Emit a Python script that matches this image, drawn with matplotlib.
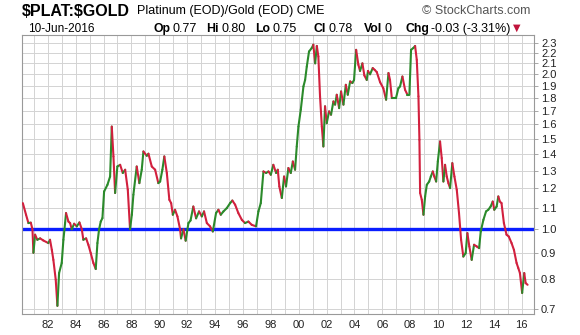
import matplotlib
matplotlib.use('Agg')
import matplotlib.pyplot as plt
import numpy as np
from matplotlib.collections import LineCollection
from matplotlib.ticker import FixedLocator, FixedFormatter, NullLocator

plt.rcParams['font.family'] = ['Liberation Sans', 'DejaVu Sans']

# Platinum / Gold ratio (decimal years)
years = [
    1980.21, 1980.44, 1980.61, 1980.78, 1980.90, 1980.97, 1981.09, 1981.25, 1981.45, 1981.68,
    1982.04, 1982.16, 1982.29, 1982.40, 1982.57, 1982.69, 1982.81, 1983.00, 1983.12, 1983.24,
    1983.31, 1983.48, 1983.60, 1983.72, 1983.89, 1984.08, 1984.27, 1984.44, 1984.55, 1984.75,
    1984.91, 1985.08, 1985.27, 1985.44, 1985.56, 1985.68, 1985.80, 1985.92, 1986.04, 1986.28,
    1986.47, 1986.59, 1986.71, 1986.83, 1986.99, 1987.19, 1987.38, 1987.55, 1987.74, 1987.90,
    1988.03, 1988.14, 1988.38, 1988.57, 1988.74, 1988.86, 1989.10, 1989.22, 1989.46, 1989.70,
    1989.93, 1990.06, 1990.22, 1990.36, 1990.54, 1990.72, 1990.85, 1990.97, 1991.13, 1991.30,
    1991.49, 1991.56, 1991.73, 1991.89, 1992.09, 1992.24, 1992.44, 1992.64, 1992.85, 1993.05,
    1993.21, 1993.41, 1993.64, 1993.84, 1994.07, 1994.24, 1994.41, 1994.60, 1994.84, 1995.08,
    1995.24, 1995.44, 1995.67, 1995.92, 1996.15, 1996.39, 1996.63, 1996.94, 1997.11, 1997.28,
    1997.47, 1997.66, 1997.83, 1998.00, 1998.18, 1998.38, 1998.50, 1998.61, 1998.79, 1998.95,
    1999.09, 1999.26, 1999.43, 1999.58, 1999.74, 1999.86, 1999.98, 2000.15, 2000.34, 2000.46,
    2000.58, 2000.74, 2000.94, 2001.05, 2001.18, 2001.30, 2001.41, 2001.53, 2001.66, 2001.77,
    2001.89, 2002.01, 2002.18, 2002.32, 2002.49, 2002.61, 2002.73, 2002.90, 2003.04, 2003.21,
    2003.38, 2003.52, 2003.69, 2003.85, 2003.97, 2004.12, 2004.28, 2004.40, 2004.57, 2004.71,
    2004.88, 2004.97, 2005.12, 2005.31, 2005.44, 2005.60, 2005.84, 2006.07, 2006.27, 2006.44,
    2006.55, 2006.68, 2006.84, 2006.98, 2007.15, 2007.27, 2007.44, 2007.63, 2007.80, 2007.94,
    2008.06, 2008.23, 2008.35, 2008.47, 2008.59, 2008.66, 2008.71, 2008.83, 2008.95, 2009.07,
    2009.19, 2009.36, 2009.48, 2009.62, 2009.73, 2009.86, 2009.98, 2010.14, 2010.26, 2010.38,
    2010.50, 2010.62, 2010.74, 2010.86, 2011.02, 2011.17, 2011.34, 2011.50, 2011.65, 2011.81,
    2011.98, 2012.10, 2012.24, 2012.41, 2012.58, 2012.77, 2012.94, 2013.06, 2013.25, 2013.44,
    2013.60, 2013.77, 2013.92, 2014.03, 2014.20, 2014.32, 2014.43, 2014.55, 2014.72, 2014.91,
    2015.07, 2015.27, 2015.44, 2015.63, 2015.75, 2015.87, 2016.03, 2016.18, 2016.28, 2016.42,
]
ratio = [
    1.124, 1.067, 1.028, 1.030, 1.000, 0.900, 0.976, 0.954, 0.960, 0.951,
    0.940, 0.954, 0.912, 0.872, 0.798, 0.710, 0.822, 0.860, 0.954, 1.028,
    1.075, 1.035, 1.028, 1.000, 1.025, 1.013, 1.031, 1.000, 0.954, 0.960,
    0.933, 0.899, 0.860, 0.837, 0.940, 1.000, 1.035, 1.051, 1.184, 1.220,
    1.266, 1.583, 1.385, 1.176, 1.324, 1.334, 1.286, 1.305, 1.193, 1.000,
    1.067, 1.167, 1.324, 1.229, 1.305, 1.416, 1.389, 1.402, 1.324, 1.305,
    1.229, 1.238, 1.305, 1.385, 1.286, 1.141, 1.124, 1.067, 1.091, 1.059,
    1.000, 0.960, 1.000, 0.950, 1.028, 1.040, 1.107, 1.050, 1.083, 1.059,
    1.083, 1.028, 1.013, 0.990, 1.075, 1.091, 1.067, 1.083, 1.099, 1.124,
    1.137, 1.116, 1.075, 1.043, 1.028, 1.035, 1.020, 1.013, 1.083, 1.124,
    1.295, 1.286, 1.295, 1.276, 1.334, 1.286, 1.305, 1.211, 1.150, 1.266,
    1.211, 1.315, 1.286, 1.354, 1.305, 1.448, 1.583, 1.707, 1.894, 1.950,
    2.070, 2.214, 2.250, 2.283, 2.100, 2.270, 2.166, 1.812, 1.583, 1.448,
    1.733, 1.607, 1.694, 1.669, 1.771, 1.746, 1.825, 1.719, 1.852, 1.746,
    1.908, 1.825, 1.937, 1.923, 1.950, 2.231, 2.087, 2.030, 2.100, 1.990,
    1.950, 2.030, 2.000, 2.056, 2.041, 2.020, 1.930, 1.879, 1.785, 2.011,
    1.950, 1.798, 1.798, 1.798, 1.879, 1.894, 1.980, 1.866, 1.825, 1.825,
    2.231, 2.250, 2.270, 2.134, 1.812, 1.492, 1.176, 1.141, 1.067, 1.158,
    1.220, 1.238, 1.266, 1.295, 1.266, 1.238, 1.354, 1.481, 1.375, 1.238,
    1.334, 1.266, 1.229, 1.202, 1.344, 1.266, 1.193, 1.075, 0.954, 0.885,
    0.899, 0.983, 0.926, 0.872, 0.933, 0.926, 0.919, 0.990, 1.043, 1.083,
    1.091, 1.107, 1.132, 1.091, 1.107, 1.158, 1.132, 1.124, 1.028, 0.976,
    0.968, 0.940, 0.912, 0.860, 0.841, 0.822, 0.752, 0.822, 0.786, 0.780,
]

ytick_vals = [0.7, 0.8, 0.9, 1.0, 1.1, 1.2, 1.3, 1.4, 1.5, 1.6, 1.7, 1.8, 1.9, 2.0, 2.1, 2.2, 2.3]
ytick_labels = ['%.1f' % v for v in ytick_vals]
xtick_years = list(range(1982, 2017, 2))
xtick_labels = ['%02d' % (y % 100) for y in xtick_years]
ref_level = 1.0

up_col = '#2b8a2b'
down_col = '#d2203e'

W, H = 580, 335
fig = plt.figure(figsize=(W / 100, H / 100), dpi=100)
ax = fig.add_axes([22 / W, 1 - 314 / H, 512 / W, 279 / H])

# line coloured by direction of move
pts = np.column_stack([years, ratio])
segs = np.stack([pts[:-1], pts[1:]], axis=1)
cols = np.where(np.diff(ratio) >= 0, up_col, down_col)
lc = LineCollection(segs, colors=cols, linewidths=1.5, capstyle='round', joinstyle='round', zorder=3)
ax.add_collection(lc)

ax.axhline(ref_level, color='#0a1eff', lw=2.4, zorder=2)

ax.set_yscale('log')
ax.set_ylim(0.6845, 2.384)
ax.set_xlim(1980.15, 2016.88)

ax.yaxis.set_major_locator(FixedLocator(ytick_vals))
ax.yaxis.set_major_formatter(FixedFormatter(ytick_labels))
ax.yaxis.set_minor_locator(NullLocator())
ax.yaxis.tick_right()
ax.tick_params(axis='y', length=3, width=0.6, color='#999999', labelsize=8, pad=2, labelcolor='#222222')

ax.xaxis.set_major_locator(FixedLocator(xtick_years))
ax.xaxis.set_major_formatter(FixedFormatter(xtick_labels))
ax.xaxis.set_minor_locator(FixedLocator(list(range(1981, 2017, 2))))
ax.tick_params(axis='x', which='both', length=0, labelsize=8, pad=4, labelcolor='#222222')

ax.grid(which='major', color='#d3d3d3', lw=0.7, zorder=0)
ax.grid(which='minor', axis='x', color='#d3d3d3', lw=0.7, zorder=0)
for s in ax.spines.values():
    s.set_color('#999999')
    s.set_linewidth(0.8)

# header
def fy(y):
    return 1 - y / H

fig.text(22 / W, fy(11), r'\$PLAT:\$GOLD', fontsize=11.5, weight='bold', va='center')
fig.text(137 / W, fy(11), 'Platinum (EOD)/Gold (EOD) CME', fontsize=9, va='center')
fig.text(422 / W, fy(11), '© StockCharts.com', fontsize=9, va='center', color='#555555')
fig.text(28 / W, fy(29), '10-Jun-2016', fontsize=8.5, va='center')

# stats line: bold label then value, laid out left to right
renderer = fig.canvas.get_renderer()
stats = [('Op', 153, '0.77'), ('Hi', 206, '0.80'), ('Lo', 255, '0.75'),
         ('Cl', 314, '0.78'), ('Vol', 364, '0'), ('Chg', 405, '-0.03 (-3.31%)')]
x = 153
for lab, lx, val in stats:
    x = max(x, lx)
    t = fig.text(x / W, fy(29), lab, fontsize=8.8, weight='bold', va='center')
    x = t.get_window_extent(renderer).x1 + 2.5
    t = fig.text(x / W, fy(29), val, fontsize=9, va='center')
    x = t.get_window_extent(renderer).x1 + 7
fig.text((x - 5) / W, fy(28), '▼', fontsize=7, va='center', color='#c0143c', family='DejaVu Sans')

fig.savefig('out.png', dpi=100)
